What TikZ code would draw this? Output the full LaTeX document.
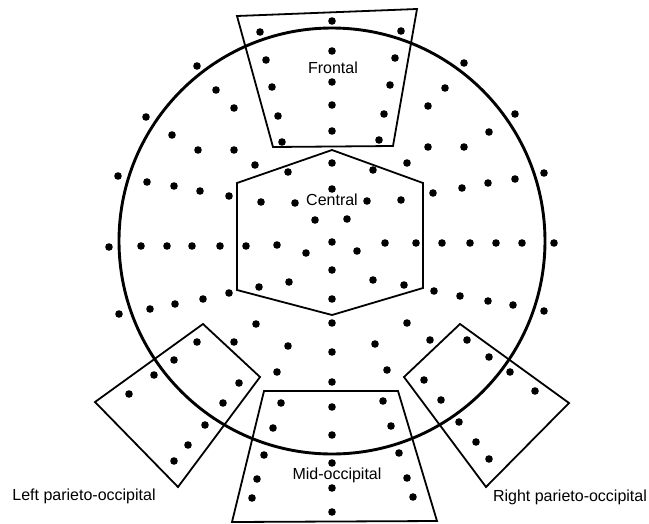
\documentclass[tikz,border=0pt]{standalone}
\usepackage{fontspec}
\setmainfont{Liberation Sans}
\begin{document}
\begin{tikzpicture}[x=1pt,y=-1pt,
  region/.style={draw,line width=1.8pt,line join=miter},
  head/.style={draw,line width=2.9pt},
  lbl/.style={font=\fontsize{16}{19}\selectfont,inner sep=0pt},
  electrode/.style={fill=black}]
\useasboundingbox (0,0) rectangle (649,523);
% head outline
\coordinate (hc) at (332,241);
\draw[head] (hc) circle[radius=213pt];
% Frontal region
\coordinate (f1) at (237,16);
\coordinate (f2) at (417,9);
\coordinate (f3) at (393,146);
\coordinate (f4) at (273,147);
\draw[region] (f1) -- (f2) -- (f3) -- (f4) -- cycle;
% Central region
\coordinate (c1) at (332,150);
\coordinate (c2) at (423,183);
\coordinate (c3) at (423,288);
\coordinate (c4) at (332,315);
\coordinate (c5) at (237,290);
\coordinate (c6) at (237,183);
\draw[region] (c1) -- (c2) -- (c3) -- (c4) -- (c5) -- (c6) -- cycle;
% Mid-occipital region
\coordinate (m1) at (264,391);
\coordinate (m2) at (398,391);
\coordinate (m3) at (437,521);
\coordinate (m4) at (232,522);
\draw[region] (m1) -- (m2) -- (m3) -- (m4) -- cycle;
% Left parieto-occipital region
\coordinate (l1) at (203,324);
\coordinate (l2) at (260,377);
\coordinate (l3) at (178,487);
\coordinate (l4) at (95,402);
\draw[region] (l1) -- (l2) -- (l3) -- (l4) -- cycle;
% Right parieto-occipital region
\coordinate (r1) at (460,324);
\coordinate (r2) at (569,403);
\coordinate (r3) at (486,487);
\coordinate (r4) at (404,377);
\draw[region] (r1) -- (r2) -- (r3) -- (r4) -- cycle;
% electrodes
\foreach \p in {
  (332,21),(260,32),(401,31),(332,51),(266,60),(395,58),(332,82),(272,87),(390,85),
  (332,105),(278,116),(384,114),(332,131),(282,142),(379,140),
  (332,163),(288,172),(373,170),(255,165),(407,163),(332,189),(261,202),(295,203),
  (367,201),(401,200),(315,220),(347,219),(246,246),(277,245),(306,253),(332,242),
  (357,251),(385,243),(416,243),(332,270),(289,282),(373,280),(259,287),(404,285),(332,299),
  (197,66),(216,90),(234,108),(146,117),(172,135),(198,150),(234,150),(118,176),(147,182),
  (174,186),(200,191),(229,196),(109,247),(141,246),(167,246),(192,246),(220,246),
  (464,63),(445,88),(428,106),(515,114),(489,132),(428,147),(464,147),(544,173),(515,179),
  (488,183),(462,188),(433,193),(442,243),(470,243),(496,243),(522,243),(554,243),
  (119,314),(150,309),(175,304),(203,299),(229,293),(256,324),(234,342),(288,346),(197,342),
  (174,360),(154,375),(129,394),(277,372),(239,383),(223,403),(205,425),(188,445),(174,461),
  (544,311),(513,305),(488,301),(460,296),(434,291),(407,323),(375,344),(430,340),(467,340),
  (489,357),(510,372),(535,391),(387,370),(424,380),(441,400),(459,422),(476,442),(489,459),
  (332,323),(332,352),(332,382),(332,407),(332,435),(332,463),(332,488),(332,512),
  (281,403),(273,428),(264,455),(257,479),(252,498),(383,401),(391,426),(399,453),(407,478),(413,497)}
  \fill[electrode] \p circle[radius=3.8pt];
% labels
\node[lbl] (frontal) at (333,68) {Frontal};
\node[lbl] (central) at (332,200) {Central};
\node[lbl] (midocc) at (337,475) {Mid-occipital};
\node[lbl] (leftpo) at (84,496) {Left parieto-occipital};
\node[lbl] (rightpo) at (570,497) {Right parieto-occipital};
\end{tikzpicture}
\end{document}
